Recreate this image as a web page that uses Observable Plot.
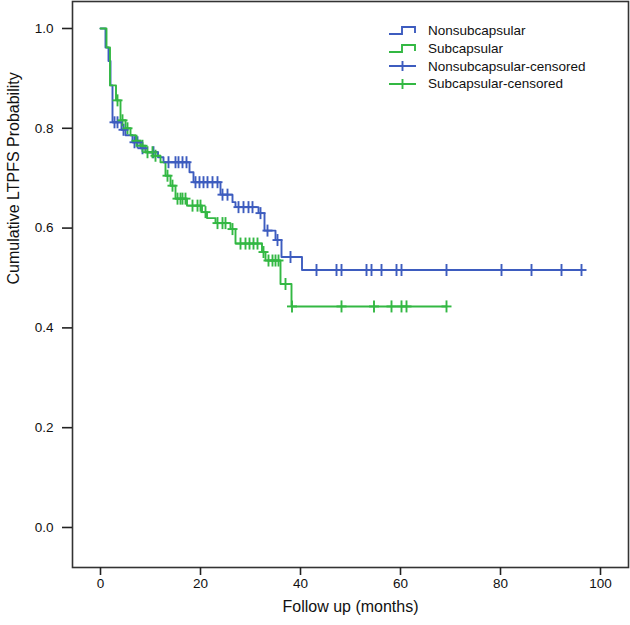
<!DOCTYPE html>
<html>
<head>
<meta charset="utf-8">
<script src="https://cdn.jsdelivr.net/npm/d3@7"></script>
<script src="https://cdn.jsdelivr.net/npm/@observablehq/plot@0.6"></script>
<style>
  html, body { margin: 0; padding: 0; background: #fff; }
  #wrap { position: relative; width: 630px; height: 625px; font-family: "Liberation Sans", Arial, sans-serif; }
  #legend { position: absolute; left: 388px; top: 22px; font-size: 13.5px; color: #111; }
  .row { display: flex; align-items: center; height: 17.7px; }
  .row svg { margin-right: 10px; }
</style>
</head>
<body>
<div id="wrap"><div id="chart"></div><div id="legend"></div></div>
<script>
// ---- Data ----
const seriesNames = ["Nonsubcapsular", "Subcapsular"];
const seriesColors = ["#3d5cbf", "#33b843"];

// Nonsubcapsular: event times (months) and survival after each step
const nonsubTimes = [0, 1.0, 1.6, 2.0, 2.4, 4.2, 5.0, 6.4, 8.0, 9.0, 11.5, 12.6, 17.8, 18.6, 24.0, 26.4, 27.0, 31.6, 32.8, 35.0, 36.2, 40.3];
const nonsubSurv  = [1.0, 0.962, 0.935, 0.886, 0.812, 0.797, 0.786, 0.772, 0.760, 0.752, 0.742, 0.732, 0.712, 0.692, 0.667, 0.652, 0.642, 0.630, 0.595, 0.576, 0.542, 0.516];
const nonsubCensor = [2.8, 3.4, 4.6, 6.8, 7.4, 8.4, 10.6, 13.6, 15.0, 15.6, 16.4, 17.2, 19.0, 19.8, 20.6, 21.4, 22.4, 23.4, 24.4, 25.4, 27.6, 28.6, 29.6, 30.4, 32.0, 33.4, 35.4, 38.0, 43.2, 47.2, 48.2, 53.2, 54.2, 56.2, 59.2, 60.2, 69.2, 80.2, 86.2, 92.2, 96.2];

// Subcapsular
const subTimes = [0, 1.2, 1.9, 3.1, 4.0, 5.0, 6.0, 7.0, 8.0, 9.0, 10.5, 12.0, 13.0, 14.0, 15.0, 17.3, 20.3, 21.3, 23.0, 26.0, 27.0, 32.3, 33.0, 36.0, 38.2];
const subSurv  = [1.0, 0.962, 0.886, 0.856, 0.816, 0.800, 0.786, 0.775, 0.765, 0.752, 0.745, 0.732, 0.705, 0.685, 0.659, 0.645, 0.632, 0.620, 0.610, 0.598, 0.569, 0.552, 0.535, 0.488, 0.443];
const subCensor = [3.4, 4.4, 5.4, 7.2, 8.4, 9.4, 10.4, 11.0, 13.4, 14.4, 15.4, 16.0, 16.4, 17.0, 18.4, 19.4, 20.0, 21.0, 23.4, 24.4, 25.0, 26.4, 28.0, 29.0, 29.8, 30.6, 31.4, 32.6, 33.6, 34.4, 35.0, 35.6, 37.0, 38.3, 48.2, 54.7, 58.2, 60.2, 61.2, 69.2];

const xTicks = [0, 20, 40, 60, 80, 100];
const yTicks = [0, 0.2, 0.4, 0.6, 0.8, 1.0];
const xTitle = "Follow up (months)";
const yTitle = "Cumulative LTPFS Probability";

// ---- Build tables ----
function survAt(times, surv, t) {
  let v = surv[0];
  for (let i = 0; i < times.length; i++) if (times[i] <= t) v = surv[i];
  return v;
}
function curve(name, times, surv, cens) {
  const pts = times.map((t, i) => ({series: name, t, s: surv[i]}));
  const end = Math.max(times[times.length - 1], d3.max(cens));
  pts.push({series: name, t: end, s: survAt(times, surv, end)});
  return pts;
}
function censored(name, times, surv, cens) {
  return cens.map(t => ({series: name, t, s: survAt(times, surv, t)}));
}
const lines = [
  ...curve(seriesNames[0], nonsubTimes, nonsubSurv, nonsubCensor),
  ...curve(seriesNames[1], subTimes, subSurv, subCensor)
];
const marks = [
  ...censored(seriesNames[0], nonsubTimes, nonsubSurv, nonsubCensor),
  ...censored(seriesNames[1], subTimes, subSurv, subCensor)
];

const vTick = { draw(ctx, size) { const r = Math.sqrt(size / Math.PI); ctx.moveTo(0, -r); ctx.lineTo(0, r); } };
const hTick = { draw(ctx, size) { const r = Math.sqrt(size / Math.PI); ctx.moveTo(-r, 0); ctx.lineTo(r, 0); } };

const chart = Plot.plot({
  width: 630,
  height: 625,
  marginLeft: 72,
  marginRight: 2,
  marginTop: 1,
  marginBottom: 58,
  style: { fontFamily: "Liberation Sans, Arial, sans-serif", fontSize: "13.5px", color: "#111", background: "#fff" },
  x: { domain: [-5.6, 105.6] },
  y: { domain: [-0.0802, 1.0541] },
  color: { domain: seriesNames, range: seriesColors },
  marks: [
    Plot.frame({ stroke: "#333", strokeWidth: 1.6 }),
    Plot.axisX({ ticks: xTicks, tickFormat: d3.format("d"), tickSize: 8, tickPadding: 3, stroke: "#222", strokeWidth: 1.6, label: null }),
    Plot.axisY({ ticks: yTicks, tickFormat: d3.format(".1f"), tickSize: 10, tickPadding: 9, stroke: "#222", strokeWidth: 1.6, label: null }),
    Plot.text([xTitle], { frameAnchor: "bottom", dy: 44, fontSize: 16, fill: "#111" }),
    Plot.text([yTitle], { frameAnchor: "left", rotate: -90, dx: -59, fontSize: 16, fill: "#111" }),
    Plot.line(lines, { x: "t", y: "s", z: "series", stroke: "series", curve: "step-after", strokeWidth: 1.9 }),
    Plot.dot(marks, { x: "t", y: "s", stroke: "series", symbol: vTick, r: 6, strokeWidth: 1.9 }),
    Plot.dot(marks, { x: "t", y: "s", stroke: "series", symbol: hTick, r: 5, strokeWidth: 1.9 })
  ]
});
document.getElementById("chart").appendChild(chart);

// ---- Legend ----
const legendItems = [
  { label: "Nonsubcapsular", color: seriesColors[0], kind: "step" },
  { label: "Subcapsular", color: seriesColors[1], kind: "step" },
  { label: "Nonsubcapsular-censored", color: seriesColors[0], kind: "plus" },
  { label: "Subcapsular-censored", color: seriesColors[1], kind: "plus" }
];
const legend = d3.select("#legend");
for (const it of legendItems) {
  const row = legend.append("div").attr("class", "row");
  const svg = row.append("svg").attr("width", 30).attr("height", 14);
  if (it.kind === "step") {
    svg.append("path").attr("d", "M1,10H14V3H27V9").attr("fill", "none").attr("stroke", it.color).attr("stroke-width", 1.9);
  } else {
    svg.append("path").attr("d", "M1,7H28M14.5,2V12").attr("fill", "none").attr("stroke", it.color).attr("stroke-width", 1.9);
  }
  row.append("span").text(it.label);
}
</script>
</body>
</html>
